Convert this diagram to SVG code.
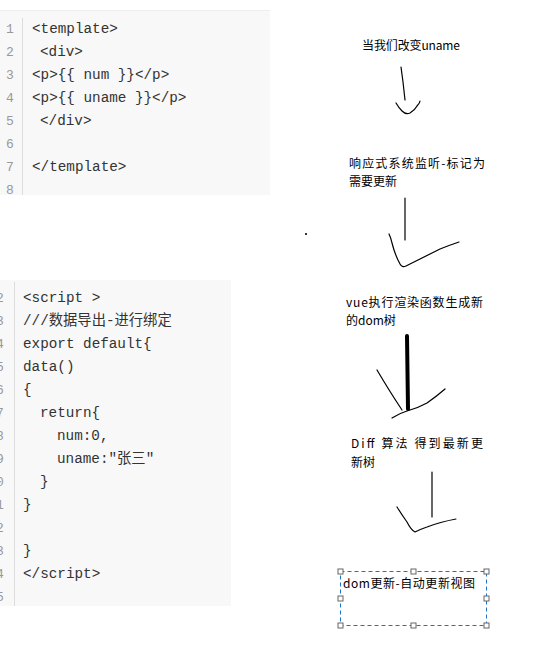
<svg xmlns="http://www.w3.org/2000/svg" width="557" height="664" viewBox="0 0 557 664">
<style>
.code{font-family:"Liberation Mono","Noto Sans CJK SC",monospace;font-size:14.3px;fill:#333;}
.ln{font-family:"Liberation Mono",monospace;font-size:13px;fill:#999;}
.lbl{font-family:"Noto Sans CJK SC","Liberation Sans",sans-serif;font-size:12px;fill:#000;}
.pen{fill:none;stroke:#000;stroke-width:1.2;stroke-linecap:round;stroke-linejoin:round;}
.h{fill:#fff;stroke:#666;stroke-width:1;}
</style>
<rect width="557" height="664" fill="#fff"/>

<g id="template-code">
<rect x="0" y="10" width="270" height="185" fill="#f8f8f8"/>
<line x1="0" y1="10.5" x2="270" y2="10.5" stroke="#eee"/>
<line x1="22.5" y1="18" x2="22.5" y2="195" stroke="#ddd"/>
<g class="ln">
<text x="6" y="33">1</text><text x="6" y="56">2</text><text x="6" y="79">3</text><text x="6" y="102">4</text>
<text x="6" y="125">5</text><text x="6" y="148">6</text><text x="6" y="171">7</text><text x="6" y="194">8</text>
</g>
<g class="code">
<text x="32" y="33">&lt;template&gt;</text>
<text x="40" y="56">&lt;div&gt;</text>
<text x="32" y="79">&lt;p&gt;{{ num }}&lt;/p&gt;</text>
<text x="32" y="102">&lt;p&gt;{{ uname }}&lt;/p&gt;</text>
<text x="40" y="125">&lt;/div&gt;</text>
<text x="32" y="171">&lt;/template&gt;</text>
</g>
</g>

<g id="script-code">
<rect x="0" y="280" width="231" height="326" fill="#f8f8f8"/>
<line x1="14.5" y1="282" x2="14.5" y2="606" stroke="#ddd"/>
<g class="ln">
<text x="-4" y="302">2</text><text x="-4" y="325">3</text><text x="-4" y="348">4</text><text x="-4" y="371">5</text>
<text x="-4" y="394">6</text><text x="-4" y="417">7</text><text x="-4" y="440">8</text><text x="-4" y="463">9</text>
<text x="-4" y="486">0</text><text x="-4" y="509">1</text><text x="-4" y="532">2</text><text x="-4" y="555">3</text>
<text x="-4" y="578">4</text><text x="-4" y="601">5</text>
</g>
<g class="code">
<text x="23" y="302">&lt;script &gt;</text>
<text x="23" y="325">///数据导出-进行绑定</text>
<text x="23" y="348">export default{</text>
<text x="23" y="371">data()</text>
<text x="23" y="394">{</text>
<text x="40" y="417">return{</text>
<text x="57" y="440">num:0,</text>
<text x="57" y="463">uname:"张三"</text>
<text x="40" y="486">}</text>
<text x="23" y="509">}</text>
<text x="23" y="555">}</text>
<text x="23" y="578">&lt;/script&gt;</text>
</g>
</g>

<g id="step1"><text class="lbl" x="362" y="50" textLength="98" lengthAdjust="spacing">当我们改变uname</text></g>
<g id="step2"><text class="lbl" x="349" y="168" textLength="136" lengthAdjust="spacing">响应式系统监听-标记为</text><text class="lbl" x="349" y="186">需要更新</text></g>
<g id="step3"><text class="lbl" x="346" y="307" textLength="137" lengthAdjust="spacing">vue执行渲染函数生成新</text><text class="lbl" x="346" y="325">的dom树</text></g>
<g id="step4"><text class="lbl" x="351" y="448" textLength="132" lengthAdjust="spacing">Diff 算法 得到最新更</text><text class="lbl" x="351" y="467">新树</text></g>
<g id="step5">
<rect x="340.5" y="571.5" width="146" height="54" fill="none" stroke="#1a73c8" stroke-width="1" stroke-dasharray="4 3"/>
<g>
<rect class="h" x="338" y="569" width="5" height="5"/><rect class="h" x="411" y="569" width="5" height="5"/><rect class="h" x="484" y="569" width="5" height="5"/>
<rect class="h" x="338" y="596" width="5" height="5"/><rect class="h" x="484" y="596" width="5" height="5"/>
<rect class="h" x="338" y="623" width="5" height="5"/><rect class="h" x="411" y="623" width="5" height="5"/><rect class="h" x="484" y="623" width="5" height="5"/>
</g>
<text class="lbl" x="343" y="588" textLength="132" lengthAdjust="spacing">dom更新-自动更新视图</text>
</g>

<g id="connectors">
<path class="pen" d="M401,67 L403,82 L405,100"/>
<path class="pen" d="M396,103 Q399,108 402,111 Q406,115 410,113 Q415,110 417,106 Q420,103 420,101"/>
<path class="pen" d="M405,198 L405,240"/>
<path class="pen" d="M389,234 Q391,238 392,243 Q395,255 400,264 Q402,268 406,266 Q420,259 440,249 Q450,245 459,242"/>
<rect x="305" y="233" width="2" height="2" fill="#333"/>
<path d="M407,336 L408,409" fill="none" stroke="#000" stroke-width="4" stroke-linecap="round"/>
<path class="pen" d="M377,370 Q390,392 402,410"/>
<path class="pen" d="M392,418 Q400,413 407,411 Q418,408 427,403 Q437,396 445,389"/>
<path class="pen" d="M432,472 L432,517"/>
<path class="pen" d="M397,507 Q402,515 407,522 Q411,530 415,532 Q421,529 427,527 Q440,522 456,519"/>
</g>
</svg>
